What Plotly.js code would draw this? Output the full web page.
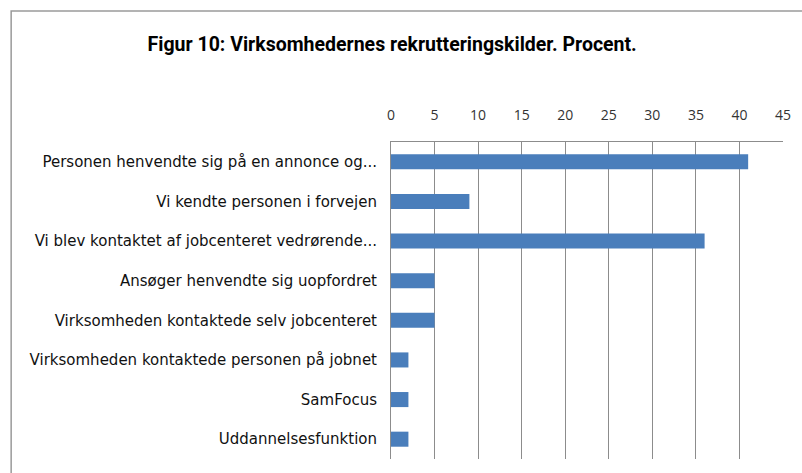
<!DOCTYPE html>
<html>
<head>
<meta charset="utf-8">
<script src="https://cdn.plot.ly/plotly-3.0.1.min.js"></script>
<style>
html,body{margin:0;padding:0;background:#fff;}
#chart{width:802px;height:473px;}
</style>
</head>
<body>
<div id="chart"></div>
<script>
const categories = [
  "Personen henvendte sig på en annonce og...",
  "Vi kendte personen i forvejen",
  "Vi blev kontaktet af jobcenteret vedrørende...",
  "Ansøger henvendte sig uopfordret",
  "Virksomheden kontaktede selv jobcenteret",
  "Virksomheden kontaktede personen på jobnet",
  "SamFocus",
  "Uddannelsesfunktion"
];
const values = [41, 9, 36, 5, 5, 2, 2, 2];
const tickValues = [0, 5, 10, 15, 20, 25, 30, 35, 40, 45];
const titleText = "Figur 10: Virksomhedernes rekrutteringskilder. Procent.";

const trace = {
  type: "bar",
  orientation: "h",
  x: values,
  y: categories,
  marker: {color: "#4A7EBB"},
  hoverinfo: "x+y"
};

const layout = {
  width: 802,
  height: 473,
  margin: {l: 391, r: 19, t: 142, b: 14, pad: 0},
  paper_bgcolor: "#fff",
  plot_bgcolor: "#fff",
  showlegend: false,
  bargap: 0.62,
  title: {
    text: titleText,
    font: {family: "Roboto, sans-serif", size: 19.5, color: "#000", weight: "bold"},
    x: 0.489, xref: "container", xanchor: "center",
    y: 0.907, yref: "container", yanchor: "middle"
  },
  xaxis: {
    side: "top",
    range: [0, 45],
    tickvals: tickValues,
    ticktext: tickValues.map(String),
    showgrid: true,
    gridcolor: "#8c8c8c",
    gridwidth: 1,
    showline: true,
    linecolor: "#8c8c8c",
    linewidth: 1,
    ticks: "",
    zeroline: false,
    tickfont: {family: "Open Sans, sans-serif", size: 14, color: "#333"},
    ticklabelstandoff: 15,
    fixedrange: true
  },
  yaxis: {
    autorange: "reversed",
    showgrid: false,
    showline: true,
    linecolor: "#8c8c8c",
    linewidth: 1,
    ticks: "",
    zeroline: false,
    tickfont: {family: "DejaVu Sans, sans-serif", size: 15, color: "#111"},
    ticklabelstandoff: 10,
    fixedrange: true
  },
  shapes: [
    {
      type: "path",
      xref: "paper", yref: "paper",
      path: "M -0.969 -0.2 L -0.969 1.413 L 1.2 1.413",
      line: {color: "#9a9a9a", width: 1.5}
    }
  ]
};

Plotly.newPlot("chart", [trace], layout, {displayModeBar: false, staticPlot: true});
</script>
</body>
</html>
